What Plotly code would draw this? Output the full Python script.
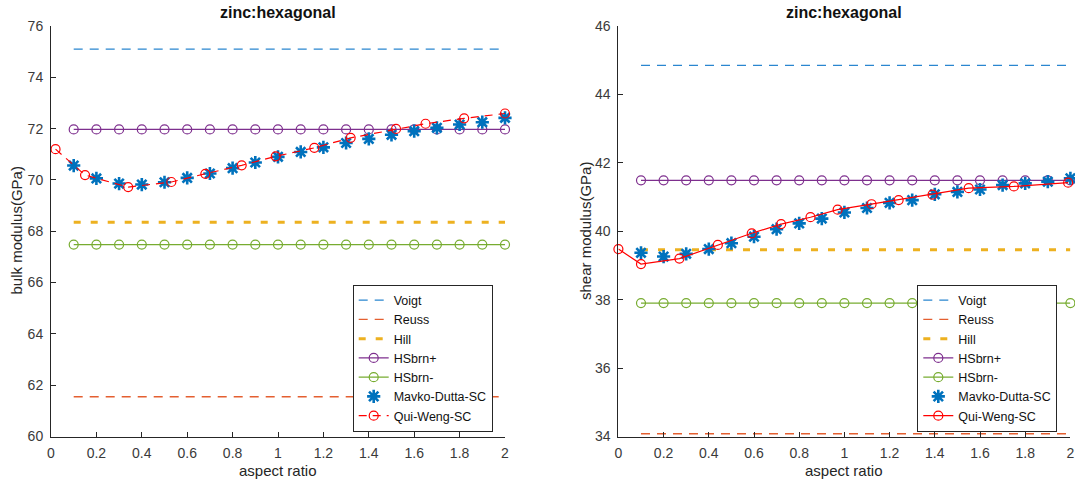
import plotly.graph_objects as go

# ---- data ----------------------------------------------------------------
aspect = [0.1, 0.2, 0.3, 0.4, 0.5, 0.6, 0.7, 0.8, 0.9, 1.0,
          1.1, 1.2, 1.3, 1.4, 1.5, 1.6, 1.7, 1.8, 1.9, 2.0]
x_ticks = [0, 0.2, 0.4, 0.6, 0.8, 1.0, 1.2, 1.4, 1.6, 1.8, 2.0]
x_tick_labels = ["0", "0.2", "0.4", "0.6", "0.8", "1", "1.2", "1.4", "1.6", "1.8", "2"]

# bulk modulus bounds (GPa)
bulk_voigt = 75.1
bulk_reuss = 61.55
bulk_hill = 68.35
bulk_hs_plus = 71.97
bulk_hs_minus = 67.48
bulk_mavko = [70.56, 70.06, 69.86, 69.82, 69.91, 70.08, 70.25, 70.46, 70.68, 70.90,
              71.09, 71.27, 71.44, 71.60, 71.76, 71.90, 72.03, 72.16, 72.25, 72.42]
bulk_qw_aspect = [0.02, 0.15, 0.34, 0.53, 0.68, 0.84, 0.99, 1.16, 1.32, 1.52, 1.65, 1.82, 2.0]
bulk_qw = [71.20, 70.19, 69.72, 69.92, 70.24, 70.57, 70.92, 71.25, 71.64, 71.99, 72.19, 72.40, 72.59]

# shear modulus bounds (GPa)
shear_voigt = 44.85
shear_reuss = 34.08
shear_hill = 39.46
shear_hs_plus = 41.49
shear_hs_minus = 37.90
shear_mavko = [39.37, 39.26, 39.34, 39.48, 39.65, 39.84, 40.06, 40.23, 40.37, 40.55,
               40.68, 40.83, 40.91, 41.08, 41.15, 41.22, 41.35, 41.40, 41.45, 41.55]
shear_qw_aspect = [0.0, 0.10, 0.27, 0.44, 0.59, 0.72, 0.85, 0.97, 1.12, 1.24, 1.39, 1.55, 1.75, 1.99]
shear_qw = [39.48, 39.04, 39.20, 39.60, 39.94, 40.21, 40.41, 40.63, 40.79, 40.91, 41.07, 41.26, 41.31, 41.42]

# ---- styling ---------------------------------------------------------------
W, H = 1075, 487
FONT = "Liberation Sans, Arial, sans-serif"
AX = "#262626"
C_VOIGT = "#2a86d0"
C_REUSS = "#e45f30"
C_HILL = "#EDB120"
C_HSP = "#7E2F8E"
C_HSM = "#77AC30"
C_MAVKO = "#0072BD"
C_QW = "#FF0000"


def px_x(p):
    return p / W


def px_y(p):
    return 1 - p / H


fig = go.Figure()


def add_panel(xa, ya, leg, voigt, reuss, hill, hsp, hsm, mavko, qw_x, qw, qw_dash):
    n = len(aspect)
    common = dict(xaxis=xa, yaxis=ya, legend=leg)
    fig.add_trace(go.Scatter(x=aspect, y=[voigt] * n, mode="lines", name="Voigt",
                             line=dict(color=C_VOIGT, width=1.4, dash="9px,7px"), **common))
    fig.add_trace(go.Scatter(x=aspect, y=[reuss] * n, mode="lines", name="Reuss",
                             line=dict(color=C_REUSS, width=1.4, dash="9px,7px"), **common))
    fig.add_trace(go.Scatter(x=aspect, y=[hill] * n, mode="lines", name="Hill",
                             line=dict(color=C_HILL, width=3, dash="7px,10px"), **common))
    fig.add_trace(go.Scatter(x=aspect, y=[hsp] * n, mode="lines+markers", name="HSbrn+",
                             line=dict(color=C_HSP, width=1.2),
                             marker=dict(symbol="circle-open", size=9, color=C_HSP,
                                         line=dict(width=1.2, color=C_HSP)),
                             cliponaxis=False, **common))
    fig.add_trace(go.Scatter(x=aspect, y=[hsm] * n, mode="lines+markers", name="HSbrn-",
                             line=dict(color=C_HSM, width=1.2),
                             marker=dict(symbol="circle-open", size=9, color=C_HSM,
                                         line=dict(width=1.2, color=C_HSM)),
                             cliponaxis=False, **common))
    fig.add_trace(go.Scatter(x=aspect, y=mavko, mode="markers", name="Mavko-Dutta-SC",
                             marker=dict(symbol="asterisk-open", size=11, color=C_MAVKO,
                                         line=dict(width=2.6, color=C_MAVKO)),
                             cliponaxis=False, **common))
    fig.add_trace(go.Scatter(x=qw_x, y=qw, mode="lines+markers", name="Qui-Weng-SC",
                             line=dict(color=C_QW, width=1.2, dash=qw_dash),
                             marker=dict(symbol="circle-open", size=9, color=C_QW,
                                         line=dict(width=1.2, color=C_QW)),
                             cliponaxis=False, **common))


add_panel("x", "y", "legend", bulk_voigt, bulk_reuss, bulk_hill, bulk_hs_plus,
          bulk_hs_minus, bulk_mavko, bulk_qw_aspect, bulk_qw, "8px,6px")
add_panel("x2", "y2", "legend2", shear_voigt, shear_reuss, shear_hill, shear_hs_plus,
          shear_hs_minus, shear_mavko, shear_qw_aspect, shear_qw, "solid")

axis_common = dict(
    showline=True, linecolor=AX, linewidth=1, mirror=False,
    ticks="inside", ticklen=5, tickwidth=1, tickcolor=AX,
    showgrid=False, zeroline=False, automargin=False,
    tickfont=dict(family=FONT, size=14, color="#3a3a3a"),
)

PLOT_TOP, PLOT_BOT = 26, 436.5
legend_common = dict(xanchor="left", yanchor="middle", bgcolor="white",
                     bordercolor=AX, borderwidth=1, tracegroupgap=0,
                     font=dict(family=FONT, size=12.5, color="#111111"))
fig.update_layout(
    width=W, height=H, autosize=False,
    margin=dict(l=0, r=0, t=0, b=0, pad=0, autoexpand=False),
    paper_bgcolor="white", plot_bgcolor="white",
    font=dict(family=FONT, color=AX),
    xaxis=dict(domain=[px_x(51), px_x(505)], range=[0, 2], anchor="y",
               tickvals=x_ticks, ticktext=x_tick_labels, ticklabelstandoff=4, **axis_common),
    yaxis=dict(domain=[px_y(PLOT_BOT), px_y(PLOT_TOP)], range=[60, 76], anchor="x",
               tickvals=list(range(60, 77, 2)), ticklabelstandoff=4, **axis_common),
    xaxis2=dict(domain=[px_x(618.4), px_x(1070.4)], range=[0, 2], anchor="y2",
                tickvals=x_ticks, ticktext=x_tick_labels, ticklabelstandoff=4, **axis_common),
    yaxis2=dict(domain=[px_y(PLOT_BOT), px_y(PLOT_TOP)], range=[34, 46], anchor="x2",
                tickvals=list(range(34, 47, 2)), ticklabelstandoff=4, **axis_common),
    legend=dict(x=px_x(352.7), y=px_y(358), **legend_common),
    legend2=dict(x=px_x(917.3), y=px_y(358), **legend_common),
)

title_font = dict(family=FONT, size=16, color="#111111")
label_font = dict(family=FONT, size=15, color=AX)
annotations = [
    dict(text="<b>zinc:hexagonal</b>", x=px_x(278), y=px_y(12), font=title_font),
    dict(text="<b>zinc:hexagonal</b>", x=px_x(844), y=px_y(12), font=title_font),
    dict(text="aspect ratio", x=px_x(278), y=px_y(470), font=label_font),
    dict(text="aspect ratio", x=px_x(844), y=px_y(470), font=label_font),
    dict(text="bulk modulus(GPa)", x=px_x(15.5), y=px_y(231), textangle=-90, font=label_font),
    dict(text="shear modulus(GPa)", x=px_x(585), y=px_y(231), textangle=-90, font=label_font),
]
for a in annotations:
    a.update(xref="paper", yref="paper", showarrow=False, xanchor="center", yanchor="middle")
fig.update_layout(annotations=annotations)

fig.write_html("out.html")
